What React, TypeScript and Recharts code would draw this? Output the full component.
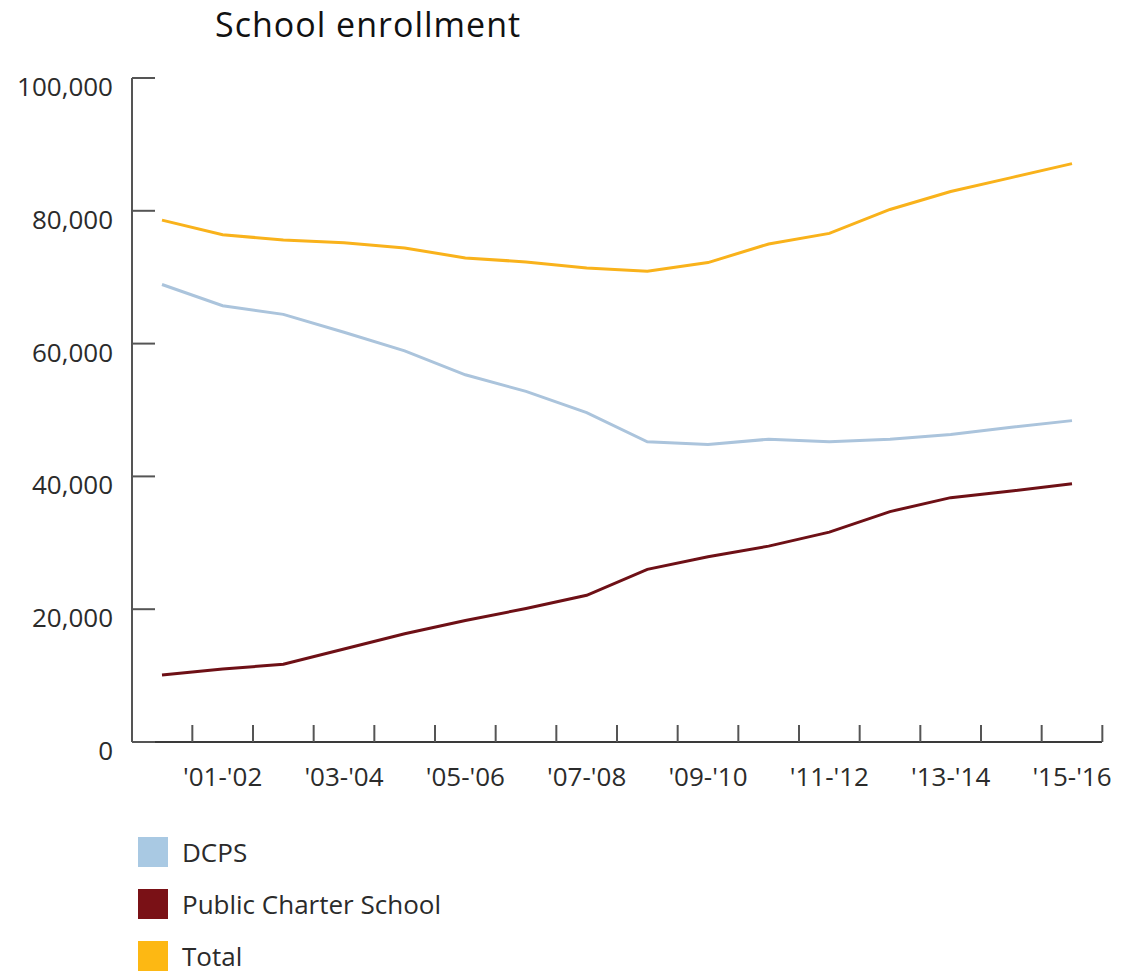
import { LineChart, Line, XAxis, YAxis } from 'recharts'

const categories = [
  "'00-'01", "'01-'02", "'02-'03", "'03-'04", "'04-'05", "'05-'06", "'06-'07", "'07-'08",
  "'08-'09", "'09-'10", "'10-'11", "'11-'12", "'12-'13", "'13-'14", "'14-'15", "'15-'16",
]
const dcps = [68900, 65700, 64400, 61700, 58900, 55300, 52800, 49600, 45200, 44800, 45600, 45200, 45600, 46300, 47400, 48400]
const charter = [10100, 11000, 11700, 14000, 16300, 18300, 20100, 22100, 26000, 27900, 29500, 31600, 34700, 36800, 37800, 38900]
const total = [78600, 76400, 75600, 75200, 74400, 72900, 72300, 71400, 70900, 72200, 75000, 76600, 80200, 82900, 85000, 87100]
const yTicks = [0, 20000, 40000, 60000, 80000, 100000]

const series = [
  { key: 'dcps', name: 'DCPS', line: '#abc4dc', swatch: '#a9c9e3' },
  { key: 'charter', name: 'Public Charter School', line: '#6e1016', swatch: '#7a1116' },
  { key: 'total', name: 'Total', line: '#f9b21b', swatch: '#fdb813' },
]

const data = categories.map((c, i) => ({ year: c, dcps: dcps[i], charter: charter[i], total: total[i] }))

const FONT = '"Open Sans", sans-serif'
const PLOT_LEFT = 132
const PLOT_RIGHT = 1102
const PAD = 30
const HALF = (PLOT_RIGHT - PLOT_LEFT - PAD * 2) / (categories.length - 1) / 2

function XTick(props: any) {
  const { x, y, payload, index } = props
  return (
    <g>
      <line x1={x + HALF} x2={x + HALF} y1={y} y2={y - 17} stroke="#555" strokeWidth={2} />
      {index % 2 === 1 && (
        <text x={x} y={y + 44} textAnchor="middle" fill="#2b2b2b" fontSize={26} fontFamily={FONT}>
          {payload.value}
        </text>
      )}
    </g>
  )
}

function YTick(props: any) {
  const { x, y, payload } = props
  return (
    <g>
      <line x1={x} x2={x + 23} y1={y} y2={y} stroke="#555" strokeWidth={2} />
      <text x={x - 19} y={y + 18} textAnchor="end" fill="#2b2b2b" fontSize={26} fontFamily={FONT}>
        {Number(payload.value).toLocaleString('en-US')}
      </text>
    </g>
  )
}

export default function App() {
  return (
    <div style={{ position: 'absolute', left: 0, top: 0, width: 1130, height: 974, background: '#fff', overflow: 'hidden' }}>
      <div style={{ position: 'absolute', left: 215, top: 1, fontFamily: FONT, fontSize: 34, letterSpacing: 1, lineHeight: 'normal', color: '#111' }}>
        School enrollment
      </div>
      <LineChart width={1130} height={800} data={data} margin={{ top: 78, right: 1130 - PLOT_RIGHT, left: 0, bottom: 0 }}>
        <XAxis
          dataKey="year"
          interval={0}
          height={58}
          padding={{ left: PAD, right: PAD }}
          tickSize={0}
          tickMargin={0}
          tick={<XTick />}
          axisLine={{ stroke: '#3a3a3a', strokeWidth: 2 }}
        />
        <YAxis
          width={PLOT_LEFT}
          domain={[0, 100000]}
          ticks={yTicks}
          interval={0}
          tickSize={0}
          tickMargin={0}
          tick={<YTick />}
          axisLine={{ stroke: '#555', strokeWidth: 2 }}
        />
        {series.map((s) => (
          <Line
            key={s.key}
            type="linear"
            dataKey={s.key}
            name={s.name}
            stroke={s.line}
            strokeWidth={3}
            dot={false}
            activeDot={false}
            isAnimationActive={false}
          />
        ))}
      </LineChart>
      <div style={{ position: 'absolute', left: 138, top: 837, fontFamily: FONT, fontSize: 26, color: '#2b2b2b' }}>
        {series.map((s) => (
          <div key={s.key} style={{ display: 'flex', alignItems: 'center', height: 30, marginBottom: 22 }}>
            <div style={{ width: 30, height: 30, background: s.swatch, marginRight: 14 }} />
            <span style={{ lineHeight: 1 }}>{s.name}</span>
          </div>
        ))}
      </div>
    </div>
  )
}
